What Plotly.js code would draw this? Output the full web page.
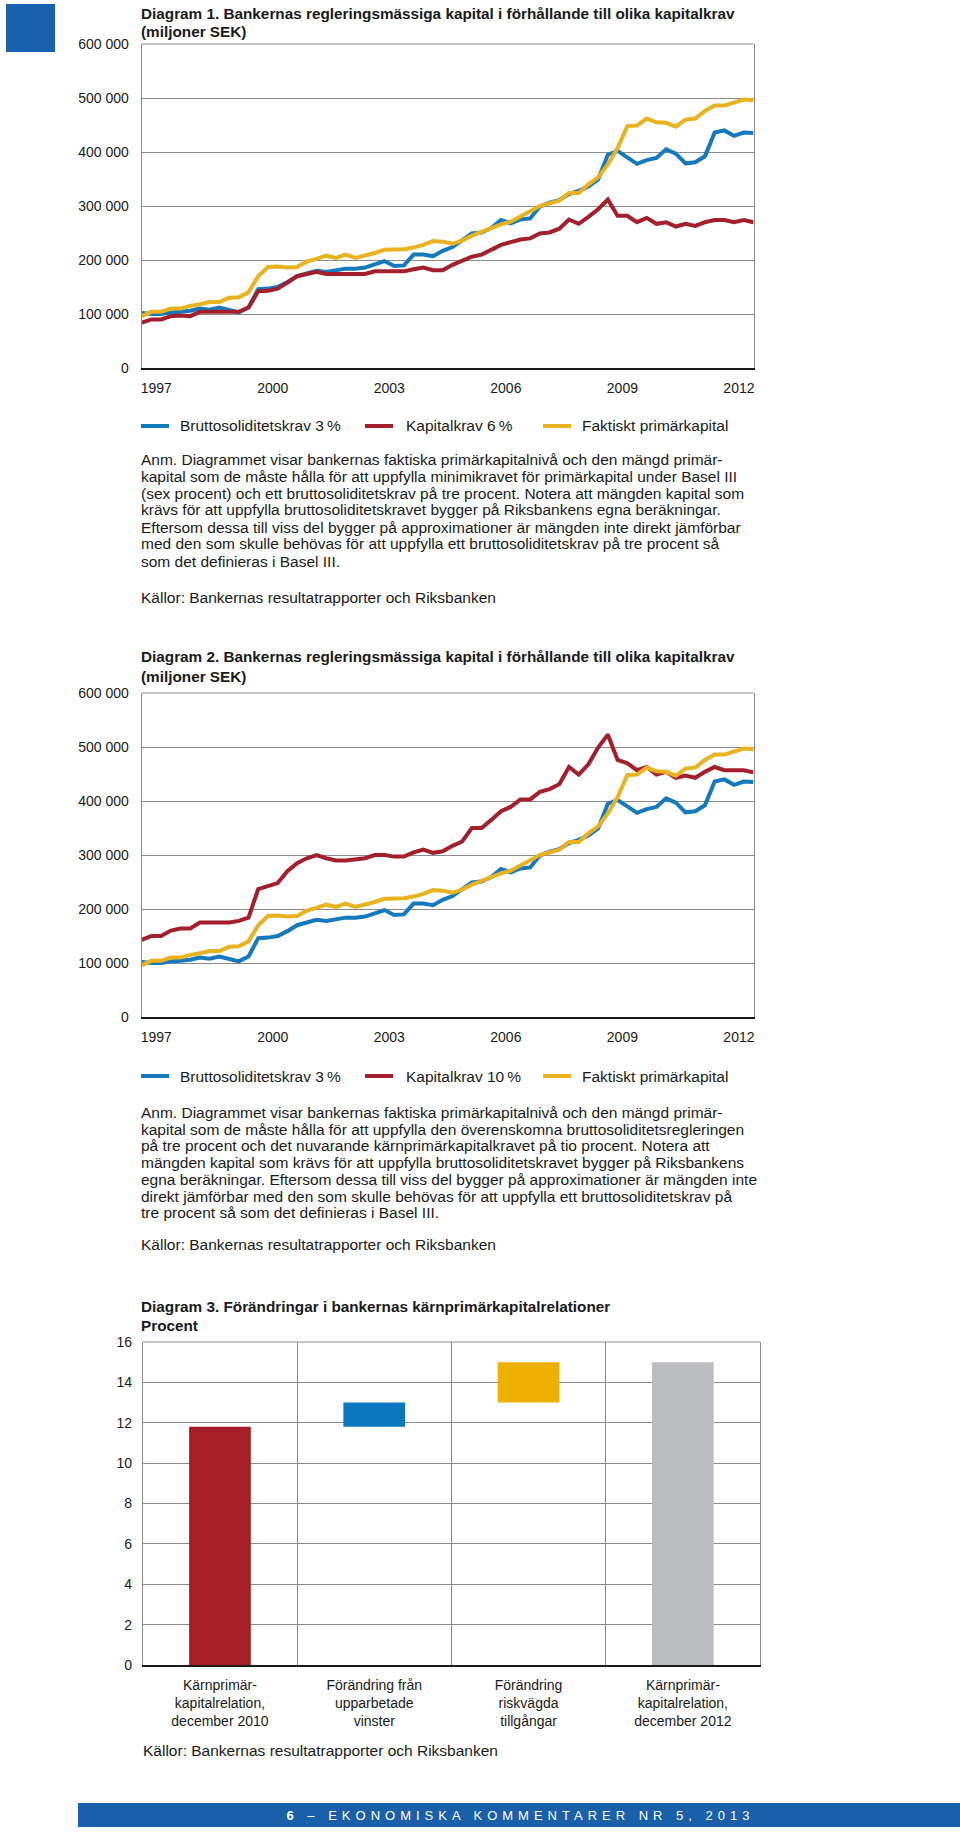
<!DOCTYPE html>
<html>
<head>
<meta charset="utf-8">
<script src="https://cdn.plot.ly/plotly-3.0.1.min.js"></script>
<style>
  html, body { margin: 0; padding: 0; background: #ffffff; }
  #chart { width: 960px; height: 1837px; }
</style>
</head>
<body>
<div id="chart"></div>
<script>
// ---------------- DATA ----------------
const startYear = 1997;
const endYear = 2012;
const tickYears = [1997, 2000, 2003, 2006, 2009, 2012];

// Diagram 1 & 2 (miljoner SEK), quarterly 1997 Q1 – 2012 Q4
const bruttosoliditetskrav3 = [102000,100000,100000,103000,104000,106000,110000,108000,112000,108000,103000,112000,146000,147000,150000,159000,170000,175000,180000,178000,181000,184000,184000,186000,192000,198000,189000,190000,210000,210000,207000,217000,224000,236000,249000,251000,259000,274000,268000,275000,277000,299000,306000,311000,322000,328000,336000,349000,395000,402000,389000,378000,385000,389000,405000,397000,379000,381000,392000,436000,440000,430000,436000,435000];
const kapitalkrav6 = [84000,90000,90000,96000,97000,96000,104000,104000,104000,104000,104000,112000,142000,143000,147000,158000,170000,174000,178000,174000,174000,174000,174000,174000,179000,179000,179000,179000,183000,186000,181000,181000,191000,198000,206000,210000,218000,228000,233000,238000,240000,249000,251000,258000,275000,267000,280000,294000,312000,282000,282000,270000,278000,267000,270000,262000,267000,263000,270000,274000,274000,270000,274000,270000];
const kapitalkrav10 = [143000,150000,150000,160000,164000,164000,175000,175000,175000,175000,178000,184000,237000,242000,248000,270000,285000,294000,300000,294000,290000,290000,292000,294000,300000,300000,297000,297000,305000,310000,304000,307000,317000,325000,350000,350000,365000,381000,389000,403000,403000,417000,422000,431000,463000,449000,468000,499000,523000,476000,470000,457000,463000,449000,454000,443000,447000,443000,454000,463000,457000,457000,457000,453000];
const faktisktPrimarkapital = [96000,104000,104000,110000,110000,115000,118000,122000,122000,130000,131000,140000,170000,187000,188000,186000,187000,197000,202000,208000,204000,210000,204000,208000,213000,219000,220000,220000,223000,228000,235000,234000,230000,236000,245000,252000,259000,266000,271000,280000,289000,300000,305000,310000,324000,324000,340000,353000,377000,407000,448000,449000,462000,455000,454000,447000,460000,462000,476000,486000,486000,492000,497000,496000];

const yTickVals = [0, 100000, 200000, 300000, 400000, 500000, 600000];
const yTickText = ['0', '100 000', '200 000', '300 000', '400 000', '500 000', '600 000'];

// Diagram 3 (procent)
const d3Categories = ['Kärnprimär-<br>kapitalrelation,<br>december 2010', 'Förändring från<br>upparbetade<br>vinster', 'Förändring<br>riskvägda<br>tillgångar', 'Kärnprimär-<br>kapitalrelation,<br>december 2012'];
const d3Start = [0, 11.8, 13.0, 0];
const d3End = [11.8, 13.0, 15.0, 15.0];
const d3Colors = ['#a51d26', '#0a76bd', '#edb003', '#bcbdc0'];
const d3TickVals = [0, 2, 4, 6, 8, 10, 12, 14, 16];

// ---------------- STYLE ----------------
const W = 960, H = 1837;
const FONT = 'Liberation Sans, Arial, sans-serif';
const TXT = '#1a1a1a';
const GRID = '#8c8c8c';
const C_BLUE = '#1579be', C_RED = '#a31f2b', C_YEL = '#e9b31f';
const BODY = 15.5, TITLE = 15.3;
const px = x => x / W;
const py = y => 1 - y / H;

// quarter positions (decimal years)
const quarterX = [];
for (let y = startYear; y <= endYear; y++) for (let q = 0; q < 4; q++) quarterX.push(y + q / 4);

function lineTrace(vals, color, xa, ya, name) {
  return { type: 'scatter', mode: 'lines', x: quarterX, y: vals, xaxis: xa, yaxis: ya, name: name,
           line: { color: color, width: 4 }, showlegend: false, hoverinfo: 'skip' };
}

const traces = [
  lineTrace(bruttosoliditetskrav3, C_BLUE, 'x', 'y', 'Bruttosoliditetskrav 3 %'),
  lineTrace(kapitalkrav6, C_RED, 'x', 'y', 'Kapitalkrav 6 %'),
  lineTrace(faktisktPrimarkapital, C_YEL, 'x', 'y', 'Faktiskt primärkapital'),
  lineTrace(bruttosoliditetskrav3, C_BLUE, 'x2', 'y2', 'Bruttosoliditetskrav 3 %'),
  lineTrace(kapitalkrav10, C_RED, 'x2', 'y2', 'Kapitalkrav 10 %'),
  lineTrace(faktisktPrimarkapital, C_YEL, 'x2', 'y2', 'Faktiskt primärkapital'),
  { type: 'bar', x: d3Categories, y: d3End.map((e, i) => e - d3Start[i]), base: d3Start,
    marker: { color: d3Colors, line: { width: 0 } }, width: 0.4, xaxis: 'x3', yaxis: 'y3',
    showlegend: false, hoverinfo: 'skip' }
];

function timeX(domain, anchor) {
  return { domain: domain, anchor: anchor, range: [startYear, endYear + 0.75], tickvals: tickYears.map(y => y + 0.375),
           ticktext: tickYears.map(String), showgrid: false, zeroline: false, showline: true,
           linecolor: '#1a1a1a', linewidth: 2, ticks: '', ticklabelstandoff: 6,
           tickfont: { family: FONT, size: 14, color: TXT }, fixedrange: true };
}
function valY(domain, anchor) {
  return { domain: domain, anchor: anchor, range: [0, 600000], tickvals: yTickVals, ticktext: yTickText,
           showgrid: true, gridcolor: GRID, gridwidth: 1, zeroline: false, showline: true,
           linecolor: GRID, linewidth: 1, mirror: true, ticks: '', ticklabelstandoff: 9,
           tickfont: { family: FONT, size: 14, color: TXT }, fixedrange: true };
}

const dom1x = [px(141.7), px(753.5)];
const layout = {
  width: W, height: H, margin: { l: 0, r: 0, t: 0, b: 0 },
  paper_bgcolor: '#ffffff', plot_bgcolor: '#ffffff', showlegend: false,
  xaxis: timeX(dom1x, 'y'),
  yaxis: valY([py(368), py(44)], 'x'),
  xaxis2: timeX(dom1x, 'y2'),
  yaxis2: valY([py(1017), py(693)], 'x2'),
  xaxis3: { domain: [px(142.8), px(760)], anchor: 'y3', type: 'category', range: [-0.5, 3.5],
            tickson: 'boundaries', showgrid: true, gridcolor: GRID, gridwidth: 1,
            showline: true, linecolor: '#1a1a1a', linewidth: 2, ticks: '', ticklabelstandoff: 6,
            tickfont: { family: FONT, size: 14, color: TXT }, fixedrange: true },
  yaxis3: { domain: [py(1665), py(1342)], anchor: 'x3', range: [0, 16], tickvals: d3TickVals,
            showgrid: true, gridcolor: GRID, gridwidth: 1, zeroline: false, showline: true,
            linecolor: GRID, linewidth: 1, mirror: true, ticks: '', ticklabelstandoff: 7,
            tickfont: { family: FONT, size: 14, color: TXT }, fixedrange: true },
  shapes: [], annotations: []
};

// top borders
[['x', 'y'], ['x2', 'y2'], ['x3', 'y3']].forEach(([xa, ya]) => {
  layout.shapes.push({ type: 'line', xref: xa + ' domain', yref: ya + ' domain', x0: 0, x1: 1, y0: 1, y1: 1,
                       line: { color: GRID, width: 1 } });
});

// blue page marker & footer bar
layout.shapes.push({ type: 'rect', xref: 'paper', yref: 'paper', x0: px(6), x1: px(55), y0: py(52), y1: py(4),
                     fillcolor: '#1662ae', line: { width: 0 } });
layout.shapes.push({ type: 'rect', xref: 'paper', yref: 'paper', x0: px(78), x1: 1, y0: py(1827), y1: py(1803),
                     fillcolor: '#1a5fa9', line: { width: 0 } });

function ann(text, x, y, size, opts) {
  layout.annotations.push(Object.assign({ text: text, xref: 'paper', yref: 'paper', x: px(x), y: py(y),
    xanchor: 'left', yanchor: 'middle', showarrow: false, align: 'left', borderpad: 0, borderwidth: 0,
    font: { family: FONT, size: size, color: TXT } }, opts || {}));
}
function title(text, x, y) { ann('<b>' + text + '</b>', x, y, TITLE); }

function legend(y, labels) {
  const lineX = [141, 365, 543];
  const textX = [180, 406, 582];
  const cols = [C_BLUE, C_RED, C_YEL];
  labels.forEach((lab, i) => {
    layout.shapes.push({ type: 'line', xref: 'paper', yref: 'paper', x0: px(lineX[i]), x1: px(lineX[i] + 28),
                         y0: py(y), y1: py(y), line: { color: cols[i], width: 4 } });
    ann(lab, textX[i], y, BODY);
  });
}

// Diagram 1 texts
title('Diagram 1. Bankernas regleringsmässiga kapital i förhållande till olika kapitalkrav', 141, 13);
title('(miljoner SEK)', 141, 31.5);
legend(426, ['Bruttosoliditetskrav 3\u2009%', 'Kapitalkrav 6\u2009%', 'Faktiskt primärkapital']);
const note1 = [
  'Anm. Diagrammet visar bankernas faktiska primärkapitalnivå och den mängd primär-',
  'kapital som de måste hålla för att uppfylla minimikravet för primärkapital under Basel III',
  '(sex procent) och ett bruttosoliditetskrav på tre procent. Notera att mängden kapital som',
  'krävs för att uppfylla bruttosoliditetskravet bygger på Riksbankens egna beräkningar.',
  'Eftersom dessa till viss del bygger på approximationer är mängden inte direkt jämförbar',
  'med den som skulle behövas för att uppfylla ett bruttosoliditetskrav på tre procent så',
  'som det definieras i Basel III.'
];
note1.forEach((t, i) => ann(t, 141, 459 + i * 17, BODY));
ann('Källor: Bankernas resultatrapporter och Riksbanken', 141, 597, BODY);

// Diagram 2 texts
title('Diagram 2. Bankernas regleringsmässiga kapital i förhållande till olika kapitalkrav', 141, 657);
title('(miljoner SEK)', 141, 676.5);
legend(1076, ['Bruttosoliditetskrav 3\u2009%', 'Kapitalkrav 10\u2009%', 'Faktiskt primärkapital']);
const note2 = [
  'Anm. Diagrammet visar bankernas faktiska primärkapitalnivå och den mängd primär-',
  'kapital som de måste hålla för att uppfylla den överenskomna bruttosoliditetsregleringen',
  'på tre procent och det nuvarande kärnprimärkapitalkravet på tio procent. Notera att',
  'mängden kapital som krävs för att uppfylla bruttosoliditetskravet bygger på Riksbankens',
  'egna beräkningar. Eftersom dessa till viss del bygger på approximationer är mängden inte',
  'direkt jämförbar med den som skulle behövas för att uppfylla ett bruttosoliditetskrav på',
  'tre procent så som det definieras i Basel III.'
];
note2.forEach((t, i) => ann(t, 141, 1112.5 + i * 16.7, BODY));
ann('Källor: Bankernas resultatrapporter och Riksbanken', 141, 1244, BODY);

// Diagram 3 texts
title('Diagram 3. Förändringar i bankernas kärnprimärkapitalrelationer', 141, 1306.5);
title('Procent', 141, 1325);
ann('Källor: Bankernas resultatrapporter och Riksbanken', 143, 1750, BODY);

// Footer
ann('<b>6</b> – EKONOMISKA KOMMENTARER NR 5, 2013', 520, 1815.5, 13,
    { xanchor: 'center', align: 'center', font: { family: FONT, size: 13, color: '#ffffff' } });

Plotly.newPlot('chart', traces, layout, { displayModeBar: false, staticPlot: true }).then(() => {
  document.querySelectorAll('text.annotation-text').forEach(t => {
    if (t.textContent.indexOf('EKONOMISKA') >= 0) t.style.letterSpacing = '5px';
  });
});
</script>
</body>
</html>
